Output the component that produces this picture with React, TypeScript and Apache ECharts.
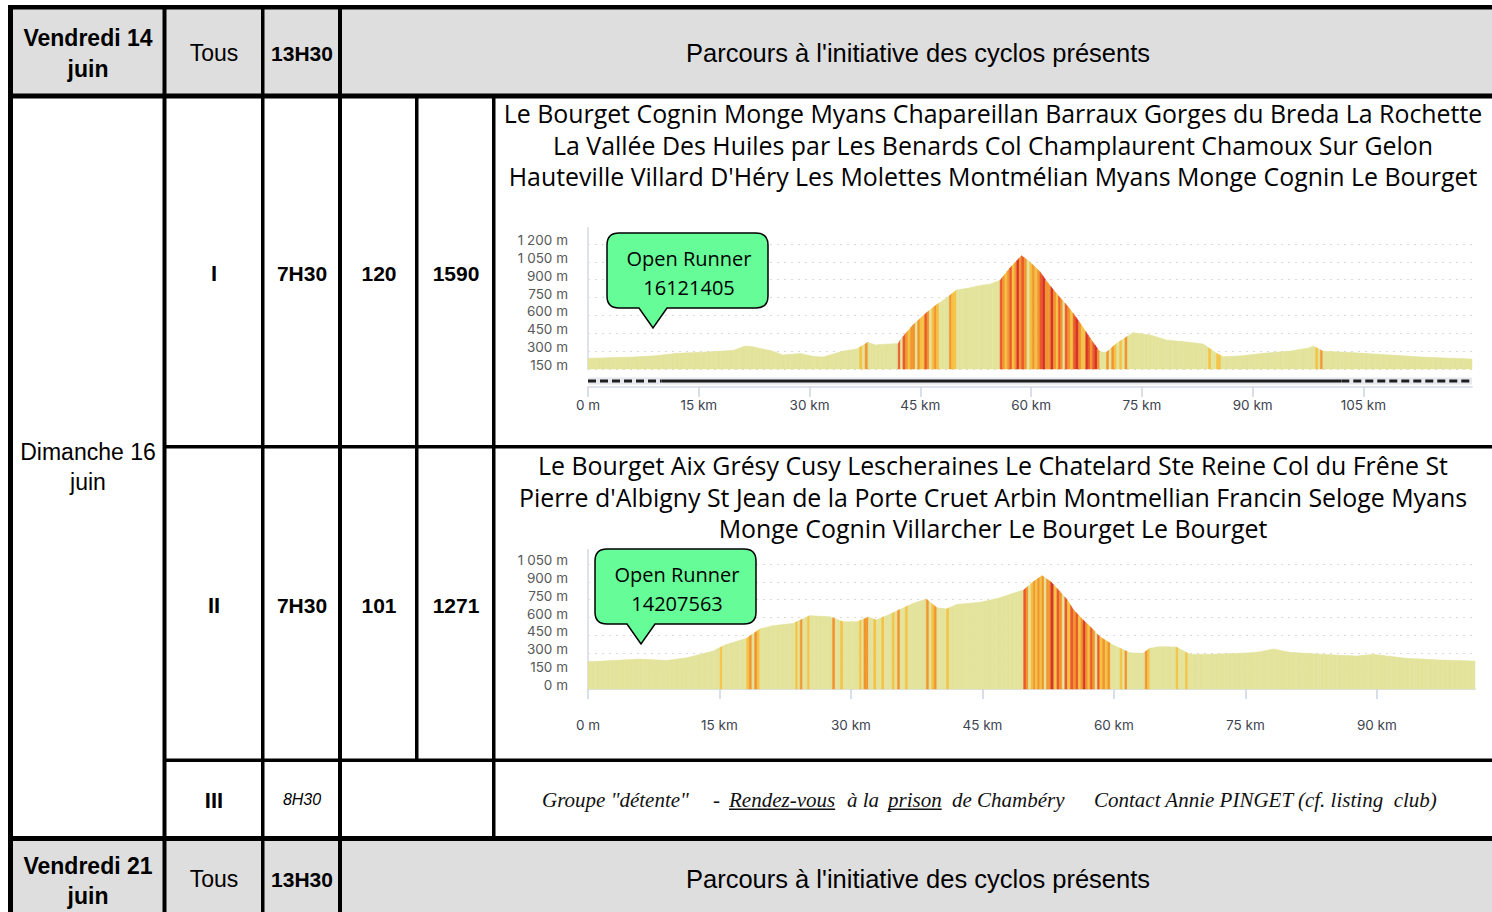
import React, { useEffect, useRef } from "react";
import * as echarts from "echarts";

// ---------------- Table content ----------------
const dayLabels = ["Vendredi 14", "Dimanche 16", "Vendredi 21"];
const monthLabel = "juin";
const allGroupLabel = "Tous";
const fridayStart = "13H30";
const fridayText = "Parcours à l'initiative des cyclos présents";
const groupLabels = ["I", "II", "III"];
const startTimes = ["7H30", "7H30", "8H30"];
const routeKm = ["120", "101"];
const routeClimb = ["1590", "1271"];
const route1Title = [
  "Le Bourget Cognin Monge Myans Chapareillan Barraux Gorges du Breda La Rochette",
  "La Vallée Des Huiles par Les Benards Col Champlaurent Chamoux Sur Gelon",
  "Hauteville Villard D'Héry Les Molettes Montmélian Myans Monge Cognin Le Bourget",
];
const route2Title = [
  "Le Bourget Aix Grésy Cusy Lescheraines Le Chatelard Ste Reine Col du Frêne St",
  "Pierre d'Albigny St Jean de la Porte Cruet Arbin Montmellian Francin Seloge Myans",
  "Monge Cognin Villarcher Le Bourget Le Bourget",
];
const openRunnerLabel = "Open Runner";
const openRunnerIds = ["16121405", "14207563"];
const group3Segments = [
  'Groupe "détente"',
  "-",
  "Rendez-vous",
  "à la",
  "prison",
  "de Chambéry",
  "Contact Annie PINGET (cf. listing  club)",
];
const group3Underlined = [false, false, true, false, true, false, false];

// ---------------- Elevation profiles (km, m) ----------------
const route1Dist = [0, 3, 6.1, 9.3, 12, 15.2, 17.9, 19.7, 21.3, 22.2, 23.7, 25, 26.4, 28.7, 30.5, 31.8, 33.2, 34.6, 36.4, 37.9, 38.9, 40, 42, 42.3, 44, 45.9, 47.2, 48.6, 49.9, 51.5, 53.5, 54.4, 55.8, 57.1, 58.7, 59.8, 61.2, 62.3, 63.4, 64.6, 65.7, 66.8, 68, 69.3, 70.2, 71.6, 73.8, 75, 76.1, 78.3, 80.6, 82, 83.3, 85.1, 86, 88.7, 91.4, 95, 97.5, 98.2, 99.5, 104, 108.6, 113, 119.7];
const route1Elev = [240, 245, 251, 262, 282, 290, 300, 307, 343, 338, 318, 300, 268, 280, 256, 251, 275, 301, 318, 374, 352, 358, 363, 395, 520, 626, 690, 749, 813, 830, 856, 861, 895, 996, 1101, 1051, 967, 870, 786, 702, 618, 520, 408, 295, 290, 366, 455, 445, 436, 394, 380, 370, 360, 282, 253, 262, 282, 300, 325, 343, 300, 286, 268, 250, 234];
const route1SurfaceStart = [0, 10, 102];
const route1SurfaceEnd = [10, 102, 119.7];
const route1SurfaceType = ["dashed", "solid", "dashed"];

const route2Dist = [0, 0.4, 3, 5.9, 9, 11.3, 14.3, 15.6, 18.1, 19.6, 21.1, 23.4, 25.3, 27.6, 29.1, 30.7, 32, 32.9, 34.4, 37.1, 38.6, 39.8, 40.9, 42.1, 44.7, 45.9, 47, 48.5, 49.7, 50.8, 51.8, 52.8, 53.5, 54.7, 55.4, 56.5, 57.3, 58.4, 59.9, 61.8, 63.3, 64.1, 65.2, 67.1, 68.7, 70.6, 74.4, 76.3, 78.2, 80.1, 83.9, 87.7, 89.6, 93.4, 97.2, 101.2];
const route2Elev = [235, 230, 240, 252, 240, 263, 319, 370, 426, 504, 532, 551, 616, 607, 565, 565, 605, 580, 627, 720, 756, 683, 673, 711, 728, 748, 767, 804, 832, 901, 952, 901, 846, 748, 664, 580, 524, 440, 370, 305, 300, 342, 356, 353, 291, 291, 300, 308, 336, 308, 291, 277, 291, 258, 244, 235];

// slope (%) classes and their stripe textures
const gradeBreaks = [2.5, 4.5, 6.5, 8.5];
const P = "#e3e39b", Y = "#f4c244", O = "#f1952f", R = "#ea5a2a", RR = "#d7352a";
const gradeStripes = [
  [P],
  [P, P, Y, P, P, P, Y, P, O, P, P, Y, P],
  [Y, O, P, O, Y, Y, R, O, P, Y, O, Y, O],
  [O, R, Y, O, RR, O, Y, R, O, P, R, O, Y],
  [R, RR, O, R, Y, RR, R, O, R, RR, O, Y, R],
];
const STRIPE = 2.5;

const bubblePath =
  "M12 0 H149 Q161 0 161 12 V63 Q161 75 149 75 H60 L46 95 L32 75 H12 Q0 75 0 63 V12 Q0 0 12 0 Z";
echarts.graphic.registerShape("bubble", echarts.graphic.extendPath(bubblePath, {}));

const SANS = "Liberation Sans";
const TITLE_FONT = "Open Sans";
const AXIS_FONT = "Inter";

function measure(text: string, font: string) {
  const ctx = document.createElement("canvas").getContext("2d");
  if (!ctx) return text.length * 9;
  ctx.font = font;
  return ctx.measureText(text).width;
}

const rect = (x: number, y: number, w: number, h: number, fill: string) => ({
  type: "rect",
  silent: true,
  shape: { x, y, width: w, height: h },
  style: { fill },
});
const txt = (x: number, y: number, text: string, o: any = {}) => ({
  type: "text",
  silent: true,
  x,
  y,
  z: 10,
  style: {
    text,
    fill: "#000",
    align: "center",
    verticalAlign: "middle",
    fontFamily: SANS,
    fontSize: 23,
    ...o,
  },
});

function segments(dist: number[], elev: number[]) {
  return dist.slice(0, -1).map((d, i) => [d, elev[i], dist[i + 1], elev[i + 1]]);
}

function profileRender(yMin: number) {
  return (params: any, api: any) => {
    const x0 = api.value(0), e0 = api.value(1), x1 = api.value(2), e1 = api.value(3);
    const p0 = api.coord([x0, e0]);
    const p1 = api.coord([x1, e1]);
    const base = api.coord([x0, yMin])[1];
    const grade = (Math.abs(e1 - e0) / ((x1 - x0) * 1000)) * 100;
    let cls = 0;
    while (cls < gradeBreaks.length && grade >= gradeBreaks[cls]) cls++;
    const pal = gradeStripes[cls];
    const width = p1[0] - p0[0];
    const n = Math.max(1, Math.round(width / STRIPE));
    const w = width / n;
    const children: any[] = [];
    for (let k = 0; k < n; k++) {
      const xa = p0[0] + k * w;
      const xb = xa + w;
      const ya = p0[1] + ((xa - p0[0]) / width) * (p1[1] - p0[1]);
      const yb = p0[1] + ((xb - p0[0]) / width) * (p1[1] - p0[1]);
      const c = pal[Math.round(xa / STRIPE) % pal.length];
      children.push({
        type: "polygon",
        shape: { points: [[xa, ya], [xb, yb], [xb, base], [xa, base]] },
        style: { fill: c, stroke: c, lineWidth: 0.5 },
      });
    }
    return { type: "group", children };
  };
}

const yFmt = (v: number) =>
  v >= 1000 ? `${Math.floor(v / 1000)} ${String(v % 1000).padStart(3, "0")} m` : `${v} m`;
const xFmt = (v: number) => (v === 0 ? "0 m" : `${v} km`);

function xAxisCfg(gridIndex: number, max: number) {
  return {
    gridIndex,
    type: "value",
    min: 0,
    max,
    interval: 15,
    offset: 18,
    axisLine: { show: true, lineStyle: { color: "#dde2ec", width: 2 } },
    axisTick: { show: true, length: 10, lineStyle: { color: "#cdd4e0", width: 1.5 } },
    axisLabel: {
      formatter: xFmt,
      color: "#3d4450",
      fontFamily: AXIS_FONT,
      fontSize: 13.5,
      margin: 11,
      showMaxLabel: false,
    },
    splitLine: { show: false },
  };
}
function yAxisCfg(gridIndex: number, min: number, max: number) {
  return {
    gridIndex,
    type: "value",
    min,
    max,
    interval: 150,
    axisLine: { show: true, lineStyle: { color: "#dde2ec", width: 2 } },
    axisTick: { show: false },
    axisLabel: {
      formatter: yFmt,
      color: "#595959",
      fontFamily: AXIS_FONT,
      fontSize: 13.5,
      margin: 20,
      showMaxLabel: false,
      verticalAlign: "bottom",
      lineHeight: 8,
    },
    splitLine: {
      show: true,
      showMaxLine: false,
      lineStyle: { color: "#d9d9d9", type: [2, 5], width: 1 },
    },
  };
}

function buildOption() {
  const els: any[] = [];
  const GRAY = "#dedede";
  els.push(rect(13, 9, 1479, 85, GRAY));
  els.push(rect(13, 840, 1479, 72, GRAY));
  els.push(rect(8, 5, 1484, 4.5, "#000"));
  els.push(rect(8, 93.5, 1484, 5, "#000"));
  els.push(rect(163, 445, 1329, 3.5, "#000"));
  els.push(rect(163, 758.5, 1329, 3.5, "#000"));
  els.push(rect(8, 836, 1484, 5, "#000"));
  els.push(rect(8, 5, 5, 907, "#000"));
  els.push(rect(162.5, 5, 4, 907, "#000"));
  els.push(rect(261, 5, 3.5, 907, "#000"));
  els.push(rect(338, 5, 4, 907, "#000"));
  els.push(rect(415, 98, 3.5, 662, "#000"));
  els.push(rect(492, 98, 3.5, 741, "#000"));

  const greyRows = [
    { day: dayLabels[0], y1: 38, y2: 69, yc: 53 },
    { day: dayLabels[2], y1: 866, y2: 896, yc: 879 },
  ];
  greyRows.forEach((r) => {
    els.push(txt(88, r.y1, r.day, { fontWeight: "bold" }));
    els.push(txt(88, r.y2, monthLabel, { fontWeight: "bold" }));
    els.push(txt(214, r.yc, allGroupLabel));
    els.push(txt(302, r.yc, fridayStart, { fontWeight: "bold", fontSize: 21 }));
    els.push(txt(918, r.yc, fridayText, { fontSize: 25.5 }));
  });

  els.push(txt(88, 452, dayLabels[1]));
  els.push(txt(88, 482, monthLabel));
  const rowY = [273, 605, 800];
  groupLabels.forEach((g, i) => {
    els.push(txt(214, rowY[i], g, { fontWeight: "bold", fontSize: 22 }));
    if (i < 2) {
      els.push(txt(302, rowY[i], startTimes[i], { fontWeight: "bold", fontSize: 21 }));
      els.push(txt(379, rowY[i], routeKm[i], { fontWeight: "bold", fontSize: 21 }));
      els.push(txt(456, rowY[i], routeClimb[i], { fontWeight: "bold", fontSize: 21 }));
    } else {
      els.push(txt(302, rowY[i] - 1, startTimes[i], { fontStyle: "italic", fontSize: 16 }));
    }
  });

  route1Title.forEach((t, i) =>
    els.push(txt(993, 113 + i * 31.5, t, { fontFamily: TITLE_FONT, fontSize: 24.9 }))
  );
  route2Title.forEach((t, i) =>
    els.push(txt(993, 465 + i * 31.5, t, { fontFamily: TITLE_FONT, fontSize: 24.9 }))
  );

  const bubbles = [
    { x: 607, y: 233 },
    { x: 595, y: 549 },
  ];
  bubbles.forEach((b, i) => {
    els.push({
      type: "bubble",
      x: b.x,
      y: b.y,
      z: 20,
      silent: true,
      style: { fill: "#66fd98", stroke: "#000", lineWidth: 1.5 },
    });
    els.push({ ...txt(b.x + 82, b.y + 25, openRunnerLabel, { fontFamily: TITLE_FONT, fontSize: 20 }), z: 21 });
    els.push({ ...txt(b.x + 82, b.y + 54, openRunnerIds[i], { fontFamily: TITLE_FONT, fontSize: 20 }), z: 21 });
  });

  const segX = [542, 713, 729, 847, 888, 952, 1094];
  const serifFont = "italic 21px 'Liberation Serif'";
  group3Segments.forEach((s, i) => {
    els.push(
      txt(segX[i], 800, s, {
        align: "left",
        fontFamily: "Liberation Serif",
        fontStyle: "italic",
        fontSize: 21,
        fill: "#111",
      })
    );
    if (group3Underlined[i]) {
      const w = measure(s, serifFont);
      els.push(rect(segX[i], 808.5, w, 1.5, "#111"));
    }
  });

  const seg1 = segments(route1Dist, route1Elev);
  const seg2 = segments(route2Dist, route2Elev);
  const surface = route1SurfaceStart.map((s, i) => [s, route1SurfaceEnd[i], 150]);
  const y1Min = 150;
  const y2Min = 0;

  return {
    animation: false,
    backgroundColor: "#ffffff",
    grid: [
      { left: 588, right: 20, top: 228, bottom: 543 },
      { left: 588, right: 17, top: 550, bottom: 223 },
    ],
    xAxis: [xAxisCfg(0, route1Dist[route1Dist.length - 1]), xAxisCfg(1, route2Dist[route2Dist.length - 1])],
    yAxis: [yAxisCfg(0, y1Min, 1334), yAxisCfg(1, y2Min, 1168)],
    series: [
      {
        type: "custom",
        xAxisIndex: 0,
        yAxisIndex: 0,
        renderItem: profileRender(y1Min),
        data: seg1,
        encode: { x: [0, 2], y: [1, 3] },
        silent: true,
        z: 3,
      },
      {
        type: "custom",
        xAxisIndex: 0,
        yAxisIndex: 0,
        clip: false,
        silent: true,
        data: surface,
        encode: { x: [0, 1], y: 2 },
        renderItem: (params: any, api: any) => {
          const s = api.coord([api.value(0), y1Min]);
          const e = api.coord([api.value(1), y1Min]);
          const y = s[1] + 12;
          const dashed = route1SurfaceType[params.dataIndex] === "dashed";
          return {
            type: "group",
            children: [
              { type: "rect", shape: { x: s[0], y: y - 3.5, width: e[0] - s[0], height: 7 }, style: { fill: "#e7e8ee" } },
              {
                type: "line",
                shape: { x1: s[0], y1: y, x2: e[0], y2: y },
                style: { stroke: "#1e1e1e", lineWidth: 3, lineDash: dashed ? [8, 4] : null },
              },
            ],
          };
        },
      },
      {
        type: "custom",
        xAxisIndex: 1,
        yAxisIndex: 1,
        renderItem: profileRender(y2Min),
        data: seg2,
        encode: { x: [0, 2], y: [1, 3] },
        silent: true,
        z: 3,
      },
    ],
    graphic: { elements: els },
  };
}

export default function App() {
  const ref = useRef<HTMLDivElement>(null);
  useEffect(() => {
    if (!ref.current) return;
    const chart = echarts.init(ref.current, null, { renderer: "svg" });
    chart.setOption(buildOption() as any);
    return () => chart.dispose();
  }, []);
  return (
    <div
      ref={ref}
      style={{ position: "absolute", left: 0, top: 0, width: 1492, height: 912, background: "#fff" }}
    />
  );
}
